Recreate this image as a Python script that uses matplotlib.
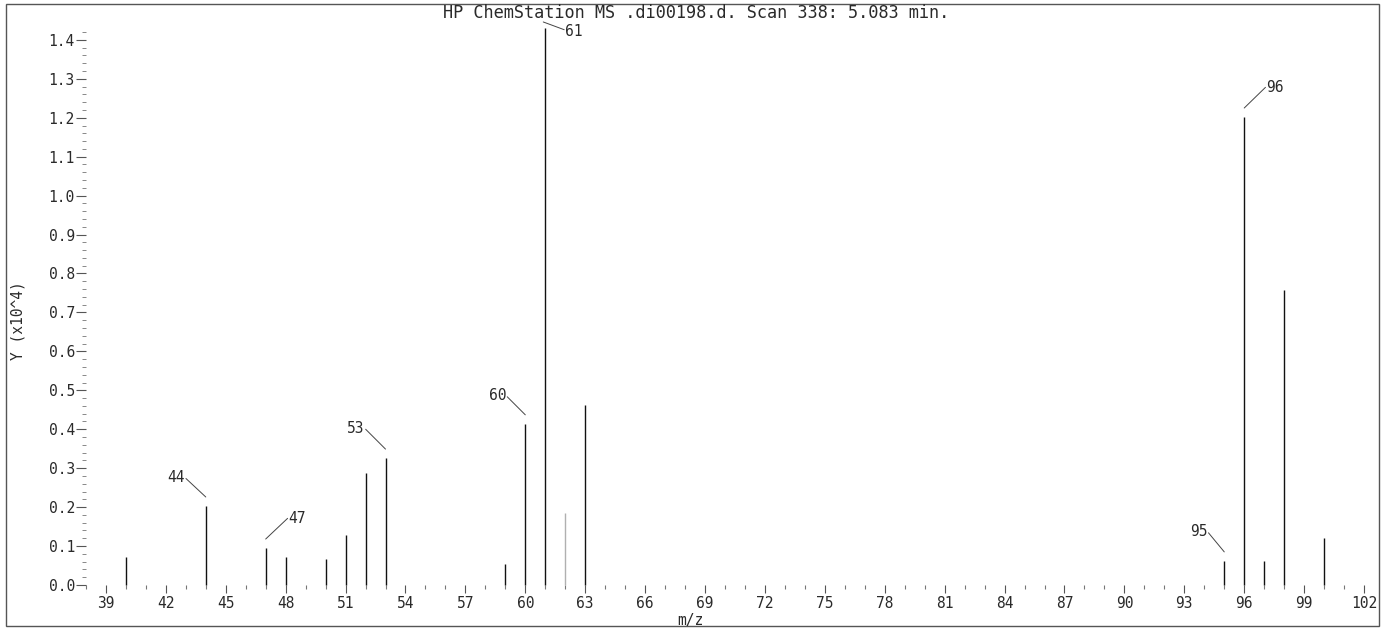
import matplotlib
matplotlib.use("Agg")
import matplotlib.pyplot as plt
from matplotlib.patches import Rectangle
from matplotlib.ticker import MultipleLocator, FormatStrFormatter

# mass spectrum, scan 338
mz = [40, 44, 47, 48, 50, 51, 52, 53, 59, 60, 61, 62, 63, 95, 96, 97, 98, 100]
abund = [0.072, 0.203, 0.095, 0.072, 0.067, 0.128, 0.288, 0.326, 0.054, 0.414,
         1.43, 0.185, 0.462, 0.062, 1.202, 0.062, 0.758, 0.121]
faint = [62]

# labelled peaks: (m/z, text dx, text dy in points from leader tip, side)
labels = [(44, -15, 14, "right"), (47, 16.5, 14.5, "left"), (53, -15, 15, "right"),
          (60, -13.7, 13.7, "right"), (61, 16, -7, "left"), (95, -12, 14.5, "right"),
          (96, 16, 14.5, "left")]

title = "HP ChemStation MS .di00198.d. Scan 338: 5.083 min."

plt.rcParams["font.family"] = ["DejaVu Sans Mono"]
ink = "#2a2a2a"

fig = plt.figure(figsize=(13.84, 6.28), dpi=100)
ax = fig.add_axes([0.0621, 0.0685, 0.9307, 0.8835])

for x, y in zip(mz, abund):
    c = "#b0b0b0" if x in faint else "#111111"
    ax.vlines(x, 0, y, color=c, lw=1.0, clip_on=False)

for x, dx, dy, side in labels:
    y = abund[mz.index(x)]
    # leader tip sits a little above the peak top
    tip = (x - 0.1, y + 0.016) if x == 61 else (x, y + 0.023)
    ax.annotate(str(x), xy=tip, xytext=(dx, dy), textcoords="offset points",
                ha=side, va="center", fontsize=10.5, color=ink,
                annotation_clip=False,
                arrowprops=dict(arrowstyle="-", color="#444444", lw=0.7,
                                patchA=None, shrinkA=1, shrinkB=0,
                                relpos=(1, 0.5) if side == "right" else (0, 0.6)))

ax.set_xlim(38, 102.5)
ax.set_ylim(0, 1.425)
for s in ax.spines.values():
    s.set_visible(False)
ax.patch.set_alpha(0)

ax.xaxis.set_major_locator(MultipleLocator(3))
ax.xaxis.set_minor_locator(MultipleLocator(1))
ax.yaxis.set_major_locator(MultipleLocator(0.1))
ax.yaxis.set_minor_locator(MultipleLocator(0.02))
ax.yaxis.set_major_formatter(FormatStrFormatter("%.1f"))
ax.set_xticks(range(39, 103, 3))

ax.tick_params(axis="x", which="major", length=6, width=0.8, color="#555555",
               labelsize=10.5, labelcolor=ink, pad=2)
ax.tick_params(axis="x", which="minor", length=3, width=0.8, color="#777777")
ax.tick_params(axis="y", which="major", length=7, width=0.8, color="#555555",
               labelsize=10.5, labelcolor=ink, pad=1)
ax.tick_params(axis="y", which="minor", length=3, width=0.7, color="#888888")

fig.text(0.503, 0.980, title, ha="center", va="center", fontsize=12.2, color=ink)
fig.text(0.499, 0.0125, "m/z", ha="center", va="center", fontsize=10.5, color=ink)
fig.text(0.013, 0.49, "Y (x10^4)", ha="center", va="center", rotation=90,
         fontsize=10.5, color=ink)

fig.patches.append(Rectangle((0.0045, 0.0025), 0.992, 0.991, transform=fig.transFigure,
                             fill=False, ec="#555555", lw=1.0))

fig.savefig("out.png", dpi=100)
